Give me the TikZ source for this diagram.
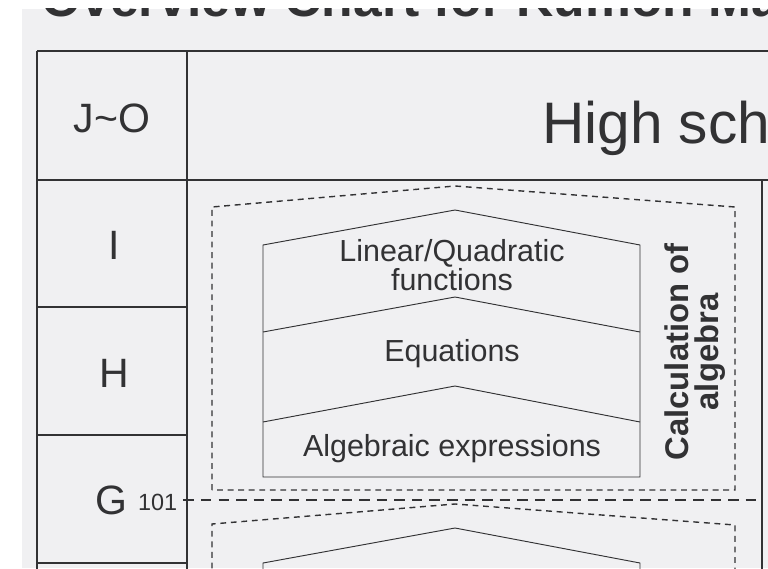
\documentclass[tikz,border=0pt]{standalone}
\usepackage{fontspec}
\setmainfont{Liberation Sans}
\definecolor{paper}{RGB}{240,240,242}
\definecolor{ink}{RGB}{50,50,52}
\tikzset{
  grid line/.style={ink, line width=2.2pt},
  level box/.style={ink, line width=0.8pt},
  unit frame/.style={ink, line width=1.2pt, dash pattern=on 5pt off 4pt},
  level text/.style={text=ink, font=\fontsize{26}{23}\selectfont, align=center},
  row label/.style={text=ink, font=\fontsize{35}{40}\selectfont}
}
\begin{document}
\begin{tikzpicture}[x=0.03cm, y=-0.03cm]
  % scanned page on white
  \fill[white] (0,0) rectangle (768,568);
  \fill[paper] (22,9) rectangle (768,568);
  \useasboundingbox (0,0) rectangle (768,568);
  \clip (22,9) rectangle (768,568);

  % cut-off title
  \node[text=ink, font=\bfseries\fontsize{44}{50}\selectfont, anchor=base west, inner sep=0pt] (title) at (41,17) {Overview Chart for Kumon Math};

  % table grid
  \draw[grid line] (37,51) -- (770,51);
  \draw[grid line] (37,180) -- (770,180);
  \draw[grid line] (37,51) -- (37,570);
  \draw[grid line] (187,51) -- (187,570);
  \draw[grid line] (762,180) -- (762,570);
  \foreach \y in {307,435,563}
    \draw[grid line] (37,\y) -- (187,\y);

  % level labels
  \node[row label] (jo) at (112,118) {J\char`~O};
  \node[row label] (lvi) at (114,245) {I};
  \node[row label] (lvh) at (114,373) {H};
  \node[row label, anchor=base east] (lvg) at (132,514) {G};
  \node[text=ink, font=\fontsize{20}{24}\selectfont, anchor=base west] (num) at (134,510) {101};
  \node[text=ink, font=\fontsize{50}{58}\selectfont, anchor=base west] (high) at (538,144) {High school};

  % upper unit frame
  \draw[unit frame] (212,490) -- (212,207) -- (455,186) -- (735,207) -- (735,490) -- cycle;

  % stacked topics
  \draw[level box] (263,477) -- (263,245) -- (455,210) -- (640,245) -- (640,477) -- cycle;
  \draw[level box] (263,332) -- (455,297) -- (640,332);
  \draw[level box] (263,422) -- (455,386) -- (640,422);
  \node[level text] (func) at (452,265) {Linear/Quadratic\\functions};
  \node[level text] (equa) at (452,354) {Equations};
  \node[level text] (expr) at (452,449) {Algebraic expressions};
  \node[text=ink, font=\bfseries\fontsize{28}{26}\selectfont, align=center, rotate=90] (calc) at (695,352) {Calculation of\\algebra};

  % boundary after G101
  \draw[ink, line width=1.8pt, dash pattern=on 9pt off 6pt] (num.east |- 0,500) ++(2,0) -- (762,500);

  % lower unit frame
  \draw[unit frame] (212,600) -- (212,524) -- (455,504) -- (735,525) -- (735,600);
  \draw[level box] (263,600) -- (263,563) -- (455,528) -- (640,563) -- (640,600);
\end{tikzpicture}
\end{document}
